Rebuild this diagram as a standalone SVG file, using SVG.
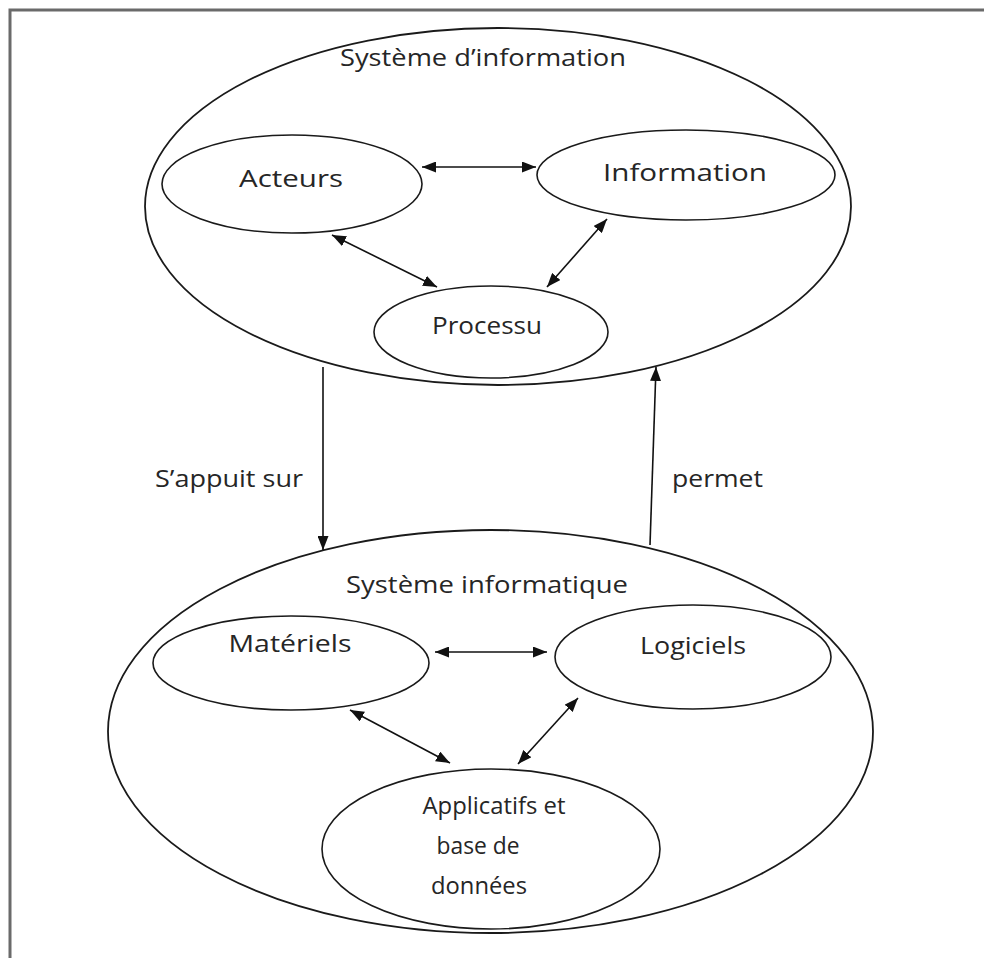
<svg xmlns="http://www.w3.org/2000/svg" width="984" height="958" viewBox="0 0 984 958">
<style>
.bg{fill:#ffffff}
.frame{fill:none;stroke:#6a6a6a;stroke-width:3}
.ell{fill:#ffffff;stroke:#1a1a1a;stroke-width:1.6}
.outer{fill:none;stroke:#1a1a1a;stroke-width:1.8}
.lbl{font-family:"Open Sans","Noto Sans","Liberation Sans",sans-serif;font-size:24px;fill:#262626;text-anchor:middle}
.lbl2{font-family:"Open Sans","Noto Sans","Liberation Sans",sans-serif;font-size:24px;fill:#262626}
.con{fill:none;stroke:#111;stroke-width:1.6}
</style>
<defs>
<marker id="ah" viewBox="0 0 14 11" refX="14" refY="5.5" markerWidth="14" markerHeight="11" markerUnits="userSpaceOnUse" orient="auto-start-reverse">
<path d="M0,0 L14,5.5 L0,11 Z" fill="#111"/>
</marker>
</defs>
<rect class="bg" x="0" y="0" width="984" height="958"/>
<rect class="frame" x="10" y="10" width="1000" height="1000"/>

<g id="systeme-information">
<ellipse class="outer" cx="498" cy="206.5" rx="353" ry="178.5"/>
<text class="lbl" x="483" y="66" textLength="286" lengthAdjust="spacingAndGlyphs">Système d’information</text>
</g>
<g id="acteurs">
<ellipse class="ell" cx="292" cy="184" rx="130" ry="49"/>
<text class="lbl" x="291" y="187" textLength="104" lengthAdjust="spacingAndGlyphs">Acteurs</text>
</g>
<g id="information">
<ellipse class="ell" cx="686" cy="175" rx="149" ry="45"/>
<text class="lbl" x="685" y="181" textLength="164" lengthAdjust="spacingAndGlyphs">Information</text>
</g>
<g id="processus">
<ellipse class="ell" cx="491" cy="332" rx="117" ry="46"/>
<text class="lbl" x="487" y="334" textLength="110" lengthAdjust="spacingAndGlyphs">Processu</text>
</g>

<g id="systeme-informatique">
<ellipse class="outer" cx="490.5" cy="731.5" rx="382.5" ry="201.5"/>
<text class="lbl" x="487" y="593" textLength="282" lengthAdjust="spacingAndGlyphs">Système informatique</text>
</g>
<g id="materiels">
<ellipse class="ell" cx="291" cy="663" rx="138" ry="47"/>
<text class="lbl" x="290" y="652" textLength="123" lengthAdjust="spacingAndGlyphs">Matériels</text>
</g>
<g id="logiciels">
<ellipse class="ell" cx="693" cy="657" rx="138" ry="52"/>
<text class="lbl" x="693" y="654" textLength="106" lengthAdjust="spacingAndGlyphs">Logiciels</text>
</g>
<g id="applicatifs">
<ellipse class="ell" cx="491" cy="849" rx="169" ry="80"/>
<text class="lbl" x="494" y="814" textLength="143" lengthAdjust="spacingAndGlyphs">Applicatifs et</text>
<text class="lbl" x="478" y="854" textLength="83" lengthAdjust="spacingAndGlyphs">base de</text>
<text class="lbl" x="479" y="894" textLength="96" lengthAdjust="spacingAndGlyphs">données</text>
</g>

<g id="connectors">
<line class="con" x1="422" y1="167" x2="536" y2="167" marker-start="url(#ah)" marker-end="url(#ah)"/>
<line class="con" x1="332" y1="235" x2="437" y2="287" marker-start="url(#ah)" marker-end="url(#ah)"/>
<line class="con" x1="607" y1="219" x2="547" y2="287" marker-start="url(#ah)" marker-end="url(#ah)"/>
<line class="con" x1="323" y1="367" x2="323" y2="550" marker-end="url(#ah)"/>
<line class="con" x1="650" y1="545" x2="656" y2="367" marker-end="url(#ah)"/>
<line class="con" x1="435" y1="652" x2="547" y2="652" marker-start="url(#ah)" marker-end="url(#ah)"/>
<line class="con" x1="350" y1="710" x2="450" y2="763" marker-start="url(#ah)" marker-end="url(#ah)"/>
<line class="con" x1="578" y1="698" x2="518" y2="764" marker-start="url(#ah)" marker-end="url(#ah)"/>
<text class="lbl2" x="155" y="487" textLength="148" lengthAdjust="spacingAndGlyphs">S’appuit sur</text>
<text class="lbl2" x="672" y="487" textLength="91" lengthAdjust="spacingAndGlyphs">permet</text>
</g>
</svg>
